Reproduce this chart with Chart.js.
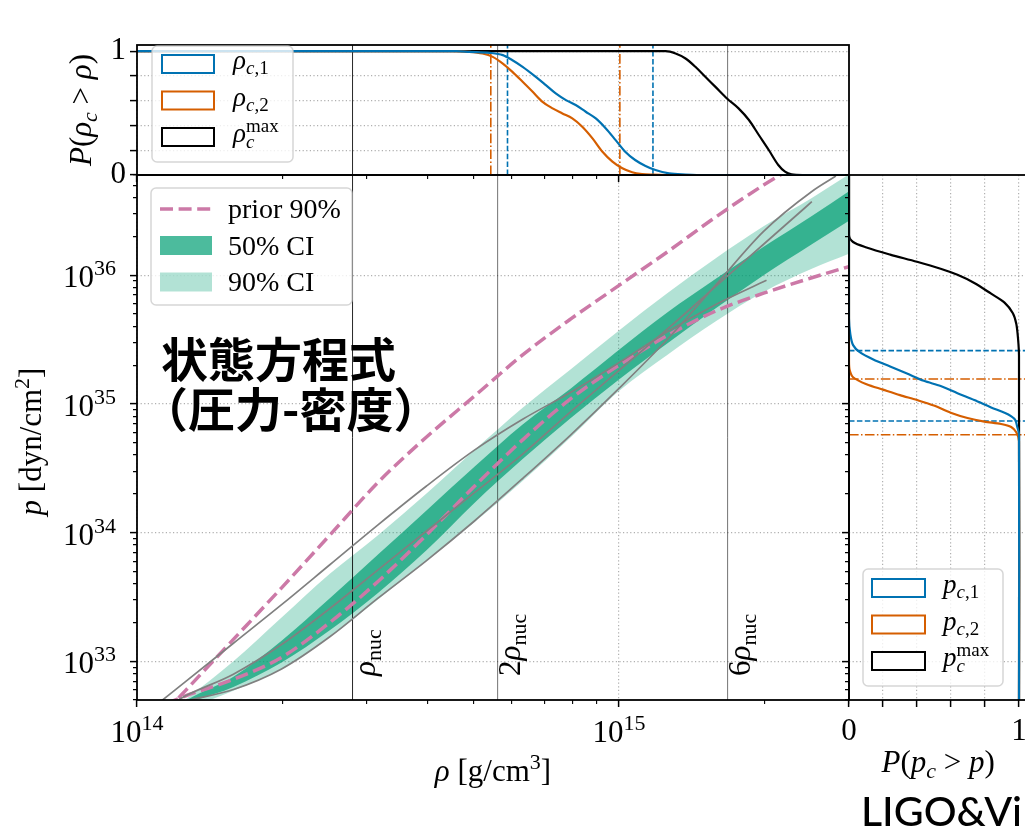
<!DOCTYPE html>
<html lang="ja">
<head>
<meta charset="utf-8">
<title>状態方程式（圧力-密度）</title>
<script src="https://cdn.jsdelivr.net/npm/chart.js@4.4.1/dist/chart.umd.min.js"></script>
<style>
  html, body { margin: 0; padding: 0; background: #fff; overflow: hidden; }
  #fig { position: relative; width: 1025px; height: 838px; overflow: hidden; background: #fff; }
  #fig canvas { position: absolute; left: 0; top: 0; }
  .nota { position: absolute; margin: 0; white-space: nowrap; color: #000;
          font-family: "Noto Sans CJK JP", sans-serif; font-weight: 700; font-size: 47px; line-height: 47px; }
  #credito { position: absolute; left: 861px; top: 790px; margin: 0; white-space: nowrap; color: #000;
             font-family: Lato, "Open Sans", sans-serif; font-weight: 500; font-size: 41px; line-height: 41px; }
</style>
</head>
<body>
<div id="fig">
  <canvas id="mainChart" width="1025" height="838"></canvas>
  <canvas id="topChart" width="1025" height="838"></canvas>
  <canvas id="sideChart" width="1040" height="838"></canvas>
  <div class="nota" style="left:161px; top:333px;">状態方程式</div>
  <div class="nota" style="left:141px; top:383px;">（圧力-密度）</div>
  <div id="credito">LIGO&amp;Vi</div>
</div>
<script>
// Datos
const RHO_NUC = 2.8e14;                 // g/cm^3
const nucMultiples = [1, 2, 6];
const rhoRange = [1e14, 3e15];
const pRange = [5e32, 6e36];
const probRange = [0, 1.05];
const probTicks = [0, 0.2, 0.4, 0.6, 0.8, 1];

// Bandas de credibilidad de p(ρ)
const bandRho = [1.148e14, 1.259e14, 1.585e14, 1.995e14, 2.512e14, 3.162e14, 3.981e14, 5.012e14, 6.310e14, 7.943e14, 1.0e15, 1.259e15, 1.585e15, 1.995e15, 2.512e15, 3.02e15];
const ci90Hi  = [3.80e32, 5.01e32, 1.00e33, 2.19e33, 4.79e33, 9.55e33, 2.00e34, 4.37e34, 9.33e34, 1.86e35, 3.72e35, 7.24e35, 1.35e36, 2.40e36, 3.98e36, 6.17e36];
const ci50Hi  = [3.72e32, 4.90e32, 7.59e32, 1.445e33, 3.09e33, 6.76e33, 1.479e34, 3.24e34, 6.92e34, 1.318e35, 2.63e35, 5.13e35, 9.33e35, 1.66e36, 2.88e36, 4.57e36];
const ci50Lo  = [3.63e32, 4.57e32, 6.31e32, 9.77e32, 1.738e33, 3.39e33, 7.24e33, 1.70e34, 3.72e34, 7.76e34, 1.549e35, 2.95e35, 5.50e35, 1.00e36, 1.738e36, 2.69e36];
const ci90Lo  = [3.47e32, 4.17e32, 5.89e32, 8.71e32, 1.549e33, 3.02e33, 6.03e33, 1.202e34, 2.51e34, 5.50e34, 1.259e35, 2.40e35, 4.37e35, 7.41e35, 1.122e36, 1.479e36];

// Prior 90% (límites)
const priorLoRho = [1.148e14, 1.202e14, 1.259e14, 1.585e14, 1.995e14, 2.512e14, 3.162e14, 3.981e14, 5.012e14, 6.310e14, 7.943e14, 1.0e15, 1.259e15, 1.585e15, 1.995e15, 2.512e15, 3.02e15];
const priorLoP   = [4.68e32, 5.01e32, 5.37e32, 7.24e32, 1.072e33, 2.00e33, 4.17e33, 9.55e33, 2.29e34, 5.25e34, 1.096e35, 2.00e35, 3.39e35, 5.25e35, 7.24e35, 9.55e35, 1.175e36];
const priorHiRho = [1.148e14, 1.202e14, 1.259e14, 1.585e14, 1.995e14, 2.512e14, 3.162e14, 3.981e14, 5.012e14, 6.310e14, 7.943e14, 1.0e15, 1.259e15, 1.585e15, 1.995e15, 2.512e15];
const priorHiP   = [4.07e32, 4.90e32, 5.89e32, 1.479e33, 3.72e33, 9.55e33, 2.45e34, 5.50e34, 1.148e35, 2.40e35, 4.57e35, 8.32e35, 1.514e36, 2.82e36, 5.01e36, 8.32e36];

// Ecuaciones de estado de referencia (líneas grises)
const eosARho = [1.148e14, 1.259e14, 1.585e14, 1.995e14, 2.512e14, 3.162e14, 3.981e14, 5.012e14, 6.310e14, 7.943e14, 1.0e15, 1.259e15, 1.585e15, 1.995e15, 2.512e15, 2.818e15];
const eosAP   = [4.47e32, 4.90e32, 6.03e32, 8.71e32, 1.549e33, 3.09e33, 6.03e33, 1.23e34, 2.63e34, 5.75e34, 1.318e35, 3.16e35, 8.32e35, 2.19e36, 4.47e36, 5.89e36];
const eosBRho = [1.148e14, 1.259e14, 1.585e14, 1.995e14, 2.512e14, 3.162e14, 3.981e14, 5.012e14, 6.310e14, 7.943e14, 1.0e15, 1.259e15, 1.585e15, 1.995e15, 2.512e15];
const eosBP   = [4.37e32, 5.37e32, 7.94e32, 1.349e33, 2.57e33, 5.13e33, 1.023e34, 2.04e34, 4.07e34, 8.71e34, 1.82e35, 3.80e35, 8.13e35, 1.738e36, 3.72e36];
const eosCRho = [1.047e14, 1.122e14, 1.259e14, 1.585e14, 1.995e14, 2.512e14, 3.162e14, 3.981e14, 5.012e14, 6.310e14, 7.943e14, 1.0e15, 1.259e15, 1.585e15, 2.023e15];
const eosCP   = [3.98e32, 4.90e32, 6.92e32, 1.38e33, 2.75e33, 5.62e33, 1.148e34, 2.29e34, 4.37e34, 7.59e34, 1.23e35, 2.09e35, 3.63e35, 5.89e35, 9.12e35];

// Panel superior: P(ρc > ρ)
const rhoC1Rho  = [1e14, 4.6e14, 4.89e14, 5.39e14, 5.74e14, 6.01e14, 6.31e14, 6.72e14, 7.05e14, 7.39e14, 7.76e14, 8.13e14, 8.53e14, 8.95e14, 9.39e14, 9.84e14, 1.03e15, 1.08e15, 1.135e15, 1.19e15, 1.27e15, 1.374e15, 1.45e15, 3e15];
const rhoC1Prob = [1, 1, 0.995, 0.987, 0.968, 0.927, 0.874, 0.793, 0.726, 0.659, 0.605, 0.565, 0.511, 0.457, 0.376, 0.282, 0.188, 0.121, 0.073, 0.04, 0.013, 0.003, 0, 0];
const rhoC2Rho  = [1e14, 4.5e14, 4.89e14, 5.21e14, 5.47e14, 5.74e14, 6.01e14, 6.31e14, 6.62e14, 6.94e14, 7.28e14, 7.63e14, 8.0e14, 8.39e14, 8.81e14, 9.24e14, 9.69e14, 1.016e15, 1.065e15, 1.117e15, 1.172e15, 1.25e15, 3e15];
const rhoC2Prob = [1, 1, 0.995, 0.981, 0.954, 0.9, 0.833, 0.753, 0.672, 0.591, 0.538, 0.497, 0.457, 0.39, 0.296, 0.188, 0.108, 0.054, 0.022, 0.008, 0.003, 0, 0];
const rhoMaxRho  = [1e14, 1.25e15, 1.31e15, 1.374e15, 1.44e15, 1.51e15, 1.585e15, 1.675e15, 1.77e15, 1.86e15, 1.95e15, 2.045e15, 2.14e15, 2.21e15, 2.28e15, 2.4e15, 3e15];
const rhoMaxProb = [1, 1, 0.981, 0.941, 0.874, 0.793, 0.712, 0.618, 0.538, 0.444, 0.323, 0.202, 0.081, 0.027, 0.005, 0, 0];
const rhoC1Bounds = [5.87e14, 1.176e15];
const rhoC2Bounds = [5.42e14, 1.004e15];

// Panel lateral: P(pc > p)
const pMaxProb = [0, 0, 0.024, 0.103, 0.242, 0.4, 0.539, 0.638, 0.737, 0.836, 0.915, 0.964, 0.984, 0.994, 1, 1];
const pMaxP    = [6e36, 2.05e36, 1.81e36, 1.64e36, 1.445e36, 1.27e36, 1.12e36, 1.006e36, 8.7e35, 7.18e35, 6.12e35, 5.06e35, 4.19e35, 3.25e35, 2.36e35, 5e32];
const pC1Prob  = [0, 0, 0.008, 0.024, 0.063, 0.143, 0.242, 0.341, 0.44, 0.539, 0.638, 0.737, 0.836, 0.915, 0.955, 0.978, 0.99, 1, 1];
const pC1P     = [6e36, 4.6e35, 3.46e35, 2.86e35, 2.52e35, 2.21e35, 1.95e35, 1.72e35, 1.51e35, 1.375e35, 1.21e35, 1.07e35, 9.38e34, 8.53e34, 8.0e34, 7.5e34, 6.6e34, 5.8e34, 5e32];
const pC2Prob  = [0, 0, 0.004, 0.024, 0.103, 0.2, 0.3, 0.4, 0.499, 0.598, 0.697, 0.796, 0.895, 0.954, 0.984, 1, 1];
const pC2P     = [6e36, 2.14e35, 1.83e35, 1.61e35, 1.42e35, 1.29e35, 1.17e35, 1.07e35, 9.7e34, 8.53e34, 7.76e34, 7.28e34, 6.97e34, 6.61e34, 6.01e34, 5.13e34, 5e32];
const pC1Bounds = [7.36e34, 2.59e35];
const pC2Bounds = [5.75e34, 1.56e35];

document.addEventListener('DOMContentLoaded', () => {
  // Estilos
  const GREEN = '0, 158, 115';
  const BLUE = '#0072b2', ORANGE = '#d55e00', PINK = '#cc79a7', GREY = '#808080';
  const SERIF = '"Liberation Serif", "Times New Roman", serif';
  const GRID_COLOR = '#b0b0b0';
  const GRID_DASH = [1.2, 2.4];
  const TICK_LEN = 7, MINOR_LEN = 4;
  const DASHED = [5.5, 2.4], DASH_DOT = [9.6, 2.4, 1.5, 2.4], PRIOR_DASH = [13, 5.6];

  const pts = (xs, ys) => xs.map((x, i) => ({ x, y: ys[i] }));
  const R = (t, s, i = false, dy = 0, stack = false) => ({ t, s, i, dy, stack });

  function runFont(r) { return (r.i ? 'italic ' : '') + r.s + 'px ' + SERIF; }

  // Texto con cursiva, subíndices y superíndices
  function drawRuns(ctx, runs, x, y, align, angle) {
    ctx.save();
    ctx.translate(x, y);
    if (angle) ctx.rotate(angle);
    ctx.textBaseline = 'alphabetic';
    ctx.textAlign = 'left';
    ctx.fillStyle = '#000';
    let cx = 0, prevStart = 0;
    const placed = runs.map(r => {
      ctx.font = runFont(r);
      const w = ctx.measureText(r.t).width;
      const start = r.stack ? prevStart : cx;
      cx = r.stack ? Math.max(cx, start + w) : start + w;
      if (!r.stack) prevStart = start;
      return { r, start };
    });
    const off = align === 'center' ? -cx / 2 : (align === 'right' ? -cx : 0);
    placed.forEach(({ r, start }) => {
      ctx.font = runFont(r);
      ctx.fillText(r.t, off + start, r.dy);
    });
    ctx.restore();
  }

  function roundBox(ctx, x, y, w, h, r) {
    ctx.beginPath();
    ctx.moveTo(x + r, y);
    ctx.arcTo(x + w, y, x + w, y + h, r);
    ctx.arcTo(x + w, y + h, x, y + h, r);
    ctx.arcTo(x, y + h, x, y, r);
    ctx.arcTo(x, y, x + w, y, r);
    ctx.closePath();
  }

  function legendPlugin(id, box, items) {
    return {
      id,
      afterDraw(chart) {
        const ctx = chart.ctx;
        ctx.save();
        roundBox(ctx, box.x, box.y, box.w, box.h, 5);
        ctx.fillStyle = 'rgba(255,255,255,0.8)';
        ctx.fill();
        ctx.lineWidth = 1.5;
        ctx.strokeStyle = 'rgba(204,204,204,0.8)';
        ctx.stroke();
        items.forEach((it, i) => {
          const cy = box.firstY + i * box.step;
          const top = cy - box.handleH / 2;
          if (it.kind === 'line') {
            ctx.beginPath();
            ctx.setLineDash(it.dash);
            ctx.strokeStyle = it.color;
            ctx.lineWidth = it.width;
            ctx.moveTo(box.handleX, cy);
            ctx.lineTo(box.handleX + box.handleW, cy);
            ctx.stroke();
            ctx.setLineDash([]);
          } else if (it.kind === 'patch') {
            ctx.fillStyle = it.color;
            ctx.fillRect(box.handleX, top, box.handleW, box.handleH);
          } else {
            ctx.fillStyle = '#fff';
            ctx.fillRect(box.handleX, top, box.handleW, box.handleH);
            ctx.strokeStyle = it.color;
            ctx.lineWidth = 2;
            ctx.strokeRect(box.handleX, top, box.handleW, box.handleH);
          }
          drawRuns(ctx, it.label, box.textX, cy + box.baseShift, 'left', 0);
        });
        ctx.restore();
      }
    };
  }

  const framePlugin = {
    id: 'frame',
    afterDraw(chart) {
      const { ctx, chartArea: a } = chart;
      ctx.save();
      ctx.strokeStyle = '#000';
      ctx.lineWidth = 1.8;
      ctx.strokeRect(a.left, a.top, a.right - a.left, a.bottom - a.top);
      ctx.restore();
    }
  };

  // Ejes
  const isDecade = v => { const l = Math.log10(v); return Math.abs(l - Math.round(l)) < 1e-6; };
  function decadeTicks(min, max) {
    const out = [];
    for (let e = Math.floor(Math.log10(min)); e <= Math.ceil(Math.log10(max)); e++) {
      for (let m = 1; m <= 9; m++) {
        const v = m * Math.pow(10, e);
        if (v >= min * 0.9999 && v <= max * 1.0001) out.push({ value: v });
      }
    }
    return out;
  }
  function logScale(range, position, size) {
    const fromBorder = position === 'bottom';
    const major = c => c.tick && isDecade(c.tick.value);
    return {
      type: 'logarithmic', position, min: range[0], max: range[1],
      afterBuildTicks: s => { s.ticks = decadeTicks(range[0], range[1]); },
      afterFit: s => { if (position === 'bottom') s.height = size; else s.width = size; },
      ticks: { autoSkip: false, maxRotation: 0, padding: 0, callback: () => '' },
      grid: {
        color: c => major(c) ? GRID_COLOR : 'rgba(0,0,0,0)',
        lineWidth: 1.2,
        tickLength: TICK_LEN,
        tickColor: '#000',
        tickWidth: c => major(c) ? 1.5 : 1.1,
        tickBorderDash: c => major(c) ? [] :
          (fromBorder ? [MINOR_LEN, 50] : [0, TICK_LEN - MINOR_LEN, MINOR_LEN, 50])
      },
      border: { display: false, dash: GRID_DASH }
    };
  }
  function probScale(position, size) {
    return {
      type: 'linear', position, min: probRange[0], max: probRange[1],
      afterBuildTicks: s => { s.ticks = probTicks.map(value => ({ value })); },
      afterFit: s => { if (position === 'bottom') s.height = size; else s.width = size; },
      ticks: {
        autoSkip: false, maxRotation: 0, color: '#000',
        padding: position === 'bottom' ? 6 : 4,
        font: { family: SERIF, size: 31 },
        callback: v => (v === 0 || v === 1) ? String(v) : ''
      },
      grid: {
        color: c => (c.tick && c.tick.value > 0) ? GRID_COLOR : 'rgba(0,0,0,0)',
        lineWidth: 1.2, tickLength: TICK_LEN, tickColor: '#000', tickWidth: 1.5
      },
      border: { display: false, dash: GRID_DASH }
    };
  }

  function baseOptions(padding, scales) {
    return {
      responsive: false, animation: false, devicePixelRatio: 1, events: [],
      layout: { padding, autoPadding: false },
      plugins: { legend: { display: false }, tooltip: { enabled: false } },
      elements: { point: { radius: 0 }, line: { borderCapStyle: 'butt' } },
      scales
    };
  }

  const straight = (data, color, width, dash, order) =>
    ({ data, borderColor: color, borderWidth: width, borderDash: dash || [], tension: 0, cubicInterpolationMode: 'default', fill: false, order });
  const curve = (data, color, width, dash, order) =>
    ({ data, borderColor: color, borderWidth: width, borderDash: dash || [], cubicInterpolationMode: 'monotone', fill: false, order });
  const edge = (data, fill, color, order) =>
    ({ data, borderColor: 'rgba(0,0,0,0)', borderWidth: 0, cubicInterpolationMode: 'monotone', fill, backgroundColor: color, order });
  const nucColor = k => k === 1 ? 'rgba(0,0,0,0.85)' : 'rgba(0,0,0,0.55)';

  // Panel principal p(ρ)
  function renderMain() {
    const nucLines = nucMultiples.map(k => straight(
      [{ x: k * RHO_NUC, y: pRange[0] }, { x: k * RHO_NUC, y: pRange[1] }], nucColor(k), 1, [], 8));

    const textPlugin = {
      id: 'mainText',
      afterDraw(chart) {
        const { ctx, chartArea: a, scales: { x, y } } = chart;
        x.ticks.filter(t => isDecade(t.value)).forEach(t => {
          const e = String(Math.round(Math.log10(t.value)));
          drawRuns(ctx, [R('10', 31), R(e, 22, false, -12)], x.getPixelForValue(t.value), 742, 'center');
        });
        y.ticks.filter(t => isDecade(t.value)).forEach(t => {
          const e = String(Math.round(Math.log10(t.value)));
          drawRuns(ctx, [R('10', 31), R(e, 22, false, -12)], 116, y.getPixelForValue(t.value) + 12, 'right');
        });
        nucMultiples.forEach(k => {
          const runs = (k === 1 ? [] : [R(String(k), 31)]).concat([R('ρ', 31, true), R('nuc', 22, false, 6)]);
          drawRuns(ctx, runs, x.getPixelForValue(k * RHO_NUC) + 22, a.bottom - 24, 'left', -Math.PI / 2);
        });
        drawRuns(ctx, [R('ρ', 31, true), R(' [g/cm', 31), R('3', 22, false, -12), R(']', 31)],
          (a.left + a.right) / 2, 781, 'center');
        drawRuns(ctx, [R('p', 31, true), R(' [dyn/cm', 31), R('2', 22, false, -12), R(']', 31)],
          41, (a.top + a.bottom) / 2 + 4, 'center', -Math.PI / 2);
      }
    };

    const legend = legendPlugin('mainLegend',
      { x: 151, y: 188, w: 201, h: 117, firstY: 209, step: 36.5, handleX: 160, handleW: 52, handleH: 19, textX: 228, baseShift: 9 },
      [
        { kind: 'line', color: PINK, width: 3.5, dash: PRIOR_DASH, label: [R('prior 90%', 28)] },
        { kind: 'patch', color: `rgba(${GREEN},0.7)`, label: [R('50% CI', 28)] },
        { kind: 'patch', color: `rgba(${GREEN},0.3)`, label: [R('90% CI', 28)] }
      ]);

    new Chart(document.getElementById('mainChart'), {
      type: 'line',
      data: {
        datasets: [
          edge(pts(bandRho, ci90Lo), false, undefined, 10),
          edge(pts(bandRho, ci90Hi), '-1', `rgba(${GREEN},0.3)`, 10),
          edge(pts(bandRho, ci50Lo), false, undefined, 9),
          edge(pts(bandRho, ci50Hi), '-1', `rgba(${GREEN},0.7)`, 9),
          ...nucLines,
          curve(pts(priorLoRho, priorLoP), PINK, 3.5, PRIOR_DASH, 3),
          curve(pts(priorHiRho, priorHiP), PINK, 3.5, PRIOR_DASH, 3),
          curve(pts(eosARho, eosAP), GREY, 1.7, null, 2),
          curve(pts(eosBRho, eosBP), GREY, 1.7, null, 2),
          curve(pts(eosCRho, eosCP), GREY, 1.7, null, 2)
        ]
      },
      options: baseOptions({ left: 0, top: 175, right: 1025 - 849, bottom: 0 }, {
        x: logScale(rhoRange, 'bottom', 838 - 700),
        y: logScale(pRange, 'left', 137)
      }),
      plugins: [framePlugin, textPlugin, legend]
    });
  }

  // Panel superior P(ρc > ρ)
  function renderTop() {
    const vline = (r, color, width, dash, order) =>
      straight([{ x: r, y: probRange[0] }, { x: r, y: probRange[1] }], color, width, dash, order);

    const textPlugin = {
      id: 'topText',
      afterDraw(chart) {
        const a = chart.chartArea;
        drawRuns(chart.ctx, [R('P', 31, true), R('(', 31), R('ρ', 31, true), R('c', 22, true, 6),
          R(' > ', 31), R('ρ', 31, true), R(')', 31)], 91, (a.top + a.bottom) / 2, 'center', -Math.PI / 2);
      }
    };

    const legend = legendPlugin('topLegend',
      { x: 152, y: 46, w: 141, h: 116, firstY: 64, step: 36.5, handleX: 162, handleW: 52, handleH: 18, textX: 233, baseShift: 5 },
      [
        { kind: 'box', color: BLUE, label: [R('ρ', 27, true), R('c', 19, true, 5), R(',1', 19, false, 5)] },
        { kind: 'box', color: ORANGE, label: [R('ρ', 27, true), R('c', 19, true, 5), R(',2', 19, false, 5)] },
        { kind: 'box', color: '#000', label: [R('ρ', 27, true), R('c', 19, true, 6), R('max', 19, false, -10, true)] }
      ]);

    new Chart(document.getElementById('topChart'), {
      type: 'line',
      data: {
        datasets: [
          ...nucMultiples.map(k => vline(k * RHO_NUC, nucColor(k), 1, [], 8)),
          ...rhoC1Bounds.map(r => vline(r, BLUE, 1.6, DASHED, 5)),
          ...rhoC2Bounds.map(r => vline(r, ORANGE, 1.6, DASH_DOT, 5)),
          curve(pts(rhoC1Rho, rhoC1Prob), BLUE, 2.2, null, 1),
          curve(pts(rhoC2Rho, rhoC2Prob), ORANGE, 2.2, null, 1),
          curve(pts(rhoMaxRho, rhoMaxProb), '#000', 2.2, null, 1)
        ]
      },
      options: baseOptions({ left: 0, top: 45, right: 1025 - 849, bottom: 0 }, {
        x: logScale(rhoRange, 'bottom', 838 - 175),
        y: probScale('left', 137)
      }),
      plugins: [framePlugin, textPlugin, legend]
    });
  }

  // Panel lateral P(pc > p)
  function renderSide() {
    const hline = (p, color, width, dash, order) =>
      straight([{ x: probRange[0], y: p }, { x: probRange[1], y: p }], color, width, dash, order);
    const sideCurve = (data, color) =>
      ({ data, borderColor: color, borderWidth: 2.2, tension: 0.3, cubicInterpolationMode: 'default', fill: false, order: 1 });

    const textPlugin = {
      id: 'sideText',
      afterDraw(chart) {
        const a = chart.chartArea;
        drawRuns(chart.ctx, [R('P', 31, true), R('(', 31), R('p', 31, true), R('c', 22, true, 6),
          R(' > ', 31), R('p', 31, true), R(')', 31)], (a.left + a.right) / 2, 772, 'center');
      }
    };

    const legend = legendPlugin('sideLegend',
      { x: 863, y: 569, w: 140, h: 117, firstY: 588, step: 36.5, handleX: 872, handleW: 53, handleH: 18, textX: 943, baseShift: 5 },
      [
        { kind: 'box', color: BLUE, label: [R('p', 27, true), R('c', 19, true, 5), R(',1', 19, false, 5)] },
        { kind: 'box', color: ORANGE, label: [R('p', 27, true), R('c', 19, true, 5), R(',2', 19, false, 5)] },
        { kind: 'box', color: '#000', label: [R('p', 27, true), R('c', 19, true, 6), R('max', 19, false, -10, true)] }
      ]);

    new Chart(document.getElementById('sideChart'), {
      type: 'line',
      data: {
        datasets: [
          ...pC1Bounds.map(p => hline(p, BLUE, 1.6, DASHED, 5)),
          ...pC2Bounds.map(p => hline(p, ORANGE, 1.6, DASH_DOT, 5)),
          sideCurve(pts(pC1Prob, pC1P), BLUE),
          sideCurve(pts(pC2Prob, pC2P), ORANGE),
          sideCurve(pts(pMaxProb, pMaxP), '#000')
        ]
      },
      options: baseOptions({ left: 839, top: 175, right: 1040 - 1027.5, bottom: 0 }, {
        x: probScale('bottom', 838 - 700),
        y: logScale(pRange, 'left', 10)
      }),
      plugins: [framePlugin, textPlugin, legend]
    });
  }

  renderMain();
  renderTop();
  renderSide();
});
</script>
</body>
</html>
